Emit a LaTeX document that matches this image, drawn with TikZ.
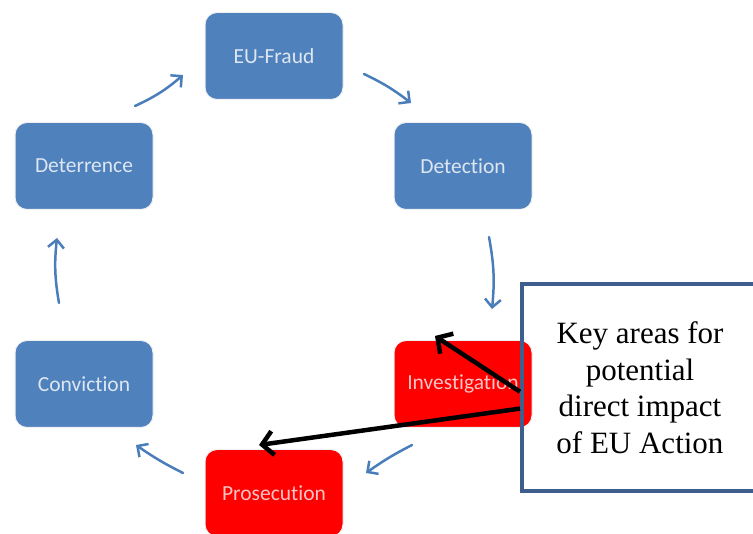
\documentclass[tikz,border=0pt]{standalone}
\usepackage{fontspec}
\setmainfont{Liberation Serif}
\newfontfamily\boxfont[Ligatures=NoCommon]{Carlito}
\usetikzlibrary{arrows.meta,calc}
\definecolor{stepblue}{HTML}{4F81BD}
\definecolor{stepred}{HTML}{FF0000}
\definecolor{flowblue}{HTML}{4A7EBB}
\definecolor{callblue}{HTML}{3E5F8E}
\definecolor{lighttext}{HTML}{DDE6F1}
\definecolor{pinktext}{HTML}{F9C4C4}
\tikzset{
  stepbox/.style={rounded corners=12pt, minimum width=138pt, minimum height=87pt,
    inner sep=0pt, font=\boxfont\fontsize{21.5}{25}\selectfont, draw=white!88!gray, line width=1pt},
  bluestep/.style={stepbox, fill=stepblue, text=lighttext},
  redstep/.style={stepbox, fill=stepred, text=pinktext},
  flow/.style={draw=flowblue, line width=2.5pt, line cap=round,
    -{Straight Barb[length=8pt,width=16pt,line width=2.5pt]}},
  pointer/.style={draw=black, line width=4.5pt,
    -{Straight Barb[length=11pt,width=24pt,line width=4.5pt]}},
  callbox/.style={draw=callblue, line width=4pt, minimum width=236pt, minimum height=207pt,
    inner sep=0pt, align=center, font=\fontsize{31}{36.5}\selectfont}
}
\begin{document}
\begin{tikzpicture}[x=1pt,y=-1pt]
\useasboundingbox (0,0) rectangle (753,534);
\begin{scope}
\clip (0,0) rectangle (753,534);
\node[bluestep] (fraud) at (274,56) {EU-Fraud};
\node[bluestep] (detect) at (463,166) {Detection};
\node[bluestep] (deter) at (84,166) {Deterrence};
\node[bluestep] (convict) at (84,384) {Conviction};
\node[redstep] (invest) at (463,384) {Investigation};
\node[redstep] (prosec) at (274,493) {Prosecution};
\node[callbox] (call) at (640,387.5) {Key areas for\\potential\\direct impact\\of EU Action};

% blue cycle arrows
\coordinate (a1s) at (135,106); \coordinate (a1e) at (183,75);
\coordinate (a2s) at (364,74);  \coordinate (a2e) at (411,103);
\coordinate (a3s) at (489,237); \coordinate (a3e) at (492,309);
\coordinate (a4s) at (412,445); \coordinate (a4e) at (366,473);
\coordinate (a5s) at (183,473); \coordinate (a5e) at (136,445);
\coordinate (a6s) at (59,303);  \coordinate (a6e) at (57,238);
\draw[flow] (a1s) to[bend right=8] (a1e);
\draw[flow] (a2s) to[bend left=6] (a2e);
\draw[flow] (a3s) to[bend left=8] (a3e);
\draw[flow] (a4s) to[bend right=4] (a4e);
\draw[flow] (a5s) to[bend left=4] (a5e);
\draw[flow] (a6s) to[bend left=8] (a6e);

% black pointers from callout
\coordinate (p1s) at ($(call.north west)!0.52!(call.south west)$);
\coordinate (p2s) at ($(call.north west)!0.60!(call.south west)$);
\coordinate (p1e) at (435,336);
\coordinate (p2e) at (259,445);
\draw[pointer] (p1s) -- (p1e);
\draw[pointer] (p2s) -- (p2e);
\end{scope}
\end{tikzpicture}
\end{document}
